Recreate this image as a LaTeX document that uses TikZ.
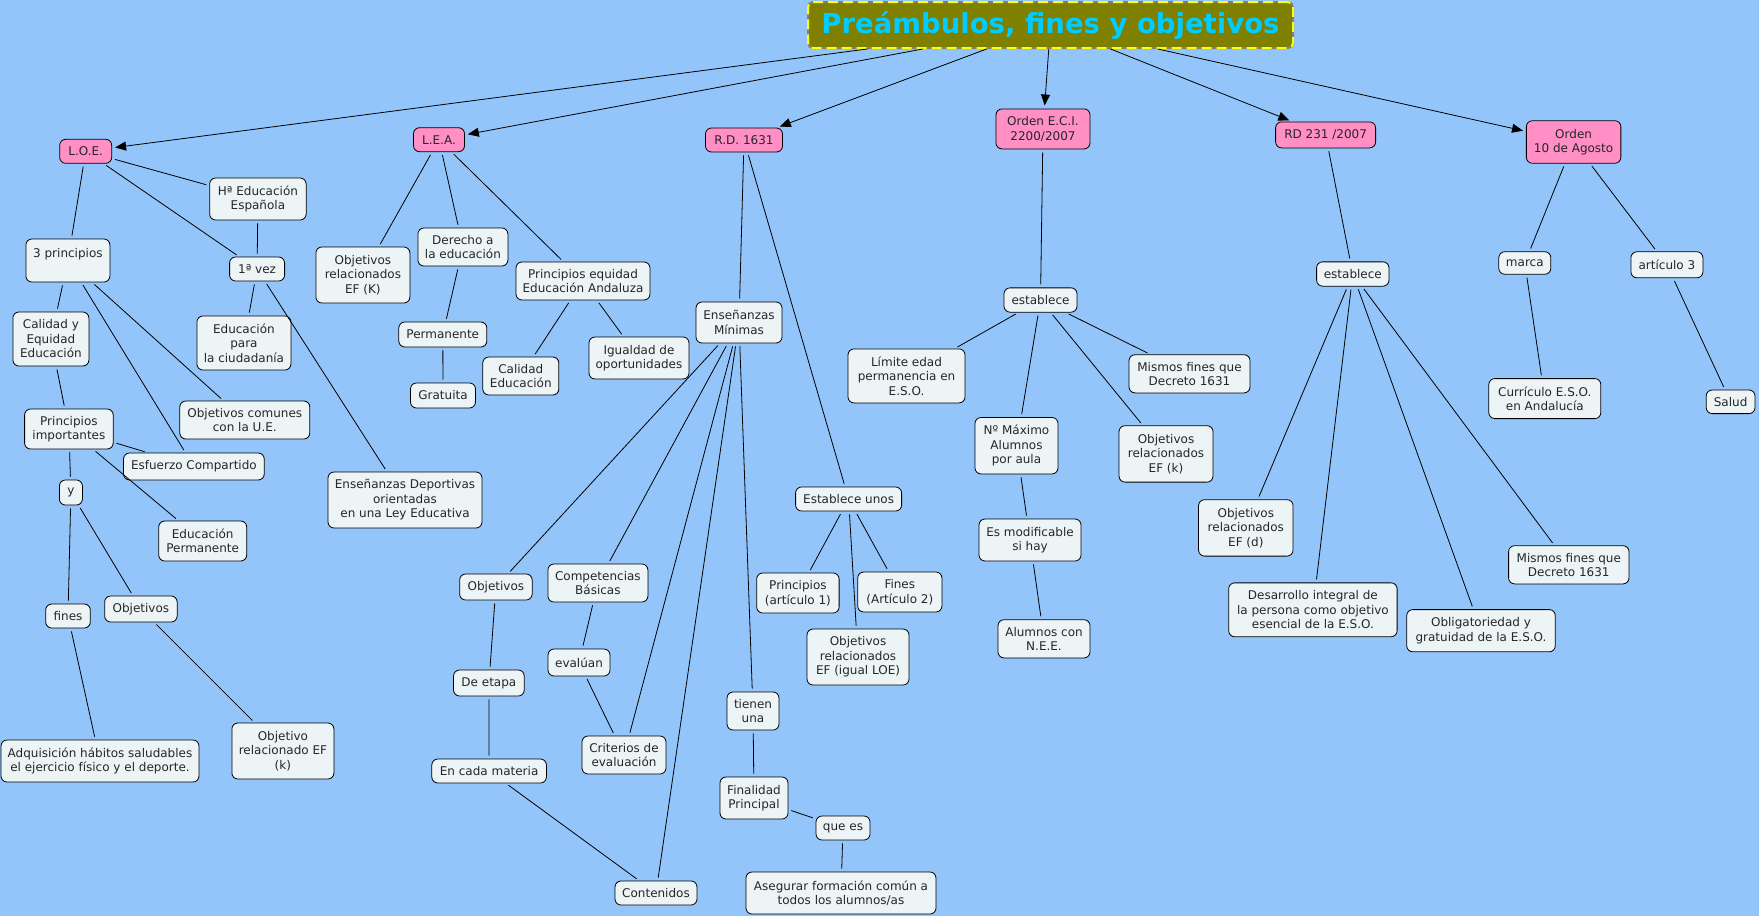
\documentclass[tikz,border=0pt]{standalone}
\usepackage{fontspec}
\setmainfont{DejaVu Sans}
\usetikzlibrary{arrows.meta}
\definecolor{bgc}{RGB}{148,197,250}
\definecolor{boxc}{RGB}{237,244,246}
\definecolor{pinkc}{RGB}{255,143,197}
\definecolor{olivec}{RGB}{128,128,0}
\definecolor{titlec}{RGB}{0,204,255}
\definecolor{yelc}{RGB}{255,255,0}
\definecolor{grayc}{RGB}{128,128,128}
\begin{document}
\begin{tikzpicture}[x=1pt,y=-1pt,
  box/.style={draw=black, fill=boxc, line width=0.8pt, rounded corners=6pt, align=center, inner sep=2pt, font=\fontsize{12}{14.5}\selectfont, text=black!85},
  pink/.style={box, fill=pinkc},
  ln/.style={draw=black, line width=0.8pt, shorten <=3pt, shorten >=3pt},
  arr/.style={draw=black, line width=0.8pt, -{Triangle[length=11pt,width=9pt]}, shorten >=3pt},
  titlebox/.style={draw=grayc, fill=olivec, line width=2pt, rounded corners=5pt, inner sep=2pt, font=\bfseries\fontsize{27.5}{30}\selectfont, text=titlec,
    postaction={draw=yelc, line width=2pt, dash pattern=on 10pt off 5pt}}
]
\fill[bgc] (0,0) rectangle (1759,916);
\useasboundingbox (0,0) rectangle (1759,916);

% title
\node[titlebox, minimum width=485pt, minimum height=46pt] (title) at (1050.5,25) {Preámbulos, fines y objetivos};

% main concepts
\node[pink, minimum width=52pt, minimum height=24pt] (loe) at (85.7,151.3) {L.O.E.};
\node[pink, minimum width=51pt, minimum height=24pt] (lea) at (439,139.7) {L.E.A.};
\node[pink, minimum width=77pt, minimum height=24pt] (rd) at (744,140) {R.D. 1631};
\node[pink, minimum width=94pt, minimum height=40pt] (eci) at (1043,128.9) {Orden E.C.I.\\2200/2007};
\node[pink, minimum width=100pt, minimum height=26pt] (rd231) at (1325.6,134.9) {RD 231 /2007};
\node[pink, minimum width=94.5pt, minimum height=42.5pt] (ord10) at (1573.6,142) {Orden\\10 de Agosto};

% LOE subtree
\node[box, minimum width=96.5pt, minimum height=42pt] (hist) at (257.9,199) {Hª Educación\\Española};
\node[box, minimum width=84pt, minimum height=43pt] (tres) at (67.9,260.5) {3 principios\\\mbox{}};
\node[box, minimum width=55pt, minimum height=24pt] (vez) at (257.1,269) {1ª vez};
\node[box, minimum width=76pt, minimum height=54pt] (calq) at (50.9,339) {Calidad y\\Equidad\\Educación};
\node[box, minimum width=94pt, minimum height=54pt] (ciud) at (243.9,343) {Educación\\para\\la ciudadanía};
\node[box, minimum width=130pt, minimum height=38pt] (comun) at (244.8,420) {Objetivos comunes\\con la U.E.};
\node[box, minimum width=88.6pt, minimum height=40pt] (pimp) at (68.9,429) {Principios\\importantes};
\node[box, minimum width=140.7pt, minimum height=27pt] (esf) at (193.9,466.5) {Esfuerzo Compartido};
\node[box, minimum width=23pt, minimum height=25pt] (y) at (70.9,492.5) {y};
\node[box, minimum width=154pt, minimum height=56pt] (dep) at (405,500) {Enseñanzas Deportivas\\orientadas\\en una Ley Educativa};
\node[box, minimum width=88pt, minimum height=40pt] (edperm) at (202.7,541) {Educación\\Permanente};
\node[box, minimum width=44.6pt, minimum height=24pt] (fines) at (68,616) {fines};
\node[box, minimum width=72.5pt, minimum height=26pt] (objl) at (140.9,609) {Objetivos};
\node[box, minimum width=198pt, minimum height=42pt] (adq) at (100,761) {Adquisición hábitos saludables\\el ejercicio físico y el deporte.};
\node[box, minimum width=102pt, minimum height=56pt] (objk) at (282.9,751) {Objetivo\\relacionado EF\\(k)};

% LEA subtree
\node[box, minimum width=94pt, minimum height=56pt] (objK) at (362.9,275) {Objetivos\\relacionados\\EF (K)};
\node[box, minimum width=90pt, minimum height=38pt] (der) at (462.9,247) {Derecho a\\la educación};
\node[box, minimum width=88pt, minimum height=25pt] (perm) at (442.8,334.5) {Permanente};
\node[box, minimum width=65pt, minimum height=25pt] (grat) at (443,395.5) {Gratuita};
\node[box, minimum width=134pt, minimum height=38pt] (peq) at (583,281) {Principios equidad\\Educación Andaluza};
\node[box, minimum width=76pt, minimum height=38pt] (cal) at (520.8,376) {Calidad\\Educación};
\node[box, minimum width=100pt, minimum height=42pt] (igu) at (639,358) {Igualdad de\\oportunidades};

% RD 1631 subtree
\node[box, minimum width=86pt, minimum height=41pt] (ens) at (739,322.5) {Enseñanzas\\Mínimas};
\node[box, minimum width=72.5pt, minimum height=26pt] (obrd) at (495.9,587) {Objetivos};
\node[box, minimum width=100pt, minimum height=38pt] (comp) at (597.9,583) {Competencias\\Básicas};
\node[box, minimum width=70.7pt, minimum height=26pt] (etapa) at (488.9,683) {De etapa};
\node[box, minimum width=62pt, minimum height=27pt] (eval) at (579,662.5) {evalúan};
\node[box, minimum width=114.6pt, minimum height=24pt] (cada) at (489.1,771) {En cada materia};
\node[box, minimum width=84pt, minimum height=38pt] (crit) at (624,755) {Criterios de\\evaluación};
\node[box, minimum width=82pt, minimum height=24pt] (cont) at (656,893) {Contenidos};
\node[box, minimum width=106pt, minimum height=24pt] (estu) at (848.6,499) {Establece unos};
\node[box, minimum width=82.4pt, minimum height=40pt] (prin1) at (797.9,593) {Principios\\(artículo 1)};
\node[box, minimum width=84.2pt, minimum height=40pt] (fin2) at (899.8,592) {Fines\\(Artículo 2)};
\node[box, minimum width=102pt, minimum height=56pt] (objLOE) at (858,657) {Objetivos\\relacionados\\EF (igual LOE)};
\node[box, minimum width=52pt, minimum height=38pt] (tien) at (753,711) {tienen\\una};
\node[box, minimum width=68pt, minimum height=42pt] (final) at (754,798) {Finalidad\\Principal};
\node[box, minimum width=54pt, minimum height=24pt] (quees) at (843,828) {que es};
\node[box, minimum width=190pt, minimum height=42pt] (aseg) at (841,893) {Asegurar formación común a\\todos los alumnos/as};

% ECI subtree
\node[box, minimum width=73pt, minimum height=24.3pt] (est1) at (1040.5,300) {establece};
\node[box, minimum width=117pt, minimum height=54pt] (lim) at (906.5,375.9) {Límite edad\\permanencia en\\E.S.O.};
\node[box, minimum width=121pt, minimum height=38.2pt] (mis1) at (1189.5,373.8) {Mismos fines que\\Decreto 1631};
\node[box, minimum width=83pt, minimum height=56.4pt] (nmax) at (1016.5,445.7) {Nº Máximo\\Alumnos\\por aula};
\node[box, minimum width=94pt, minimum height=56.4pt] (objk2) at (1166,453.9) {Objetivos\\relacionados\\EF (k)};
\node[box, minimum width=102pt, minimum height=42pt] (modif) at (1030,540) {Es modificable\\si hay};
\node[box, minimum width=92pt, minimum height=38.2pt] (nee) at (1044,638.8) {Alumnos con\\N.E.E.};

% RD 231 subtree
\node[box, minimum width=72.4pt, minimum height=24.3pt] (est2) at (1352.8,274) {establece};
\node[box, minimum width=94.5pt, minimum height=56.4pt] (objd) at (1245.8,527.9) {Objetivos\\relacionados\\EF (d)};
\node[box, minimum width=168.4pt, minimum height=53.9pt] (desa) at (1312.9,609.8) {Desarrollo integral de\\la persona como objetivo\\esencial de la E.S.O.};
\node[box, minimum width=148.5pt, minimum height=42.2pt] (obli) at (1481,630.7) {Obligatoriedad y\\gratuidad de la E.S.O.};
\node[box, minimum width=120.4pt, minimum height=38.2pt] (mis2) at (1568.8,564.8) {Mismos fines que\\Decreto 1631};

% Orden 10 de Agosto subtree
\node[box, minimum width=52pt, minimum height=22.5pt] (marca) at (1524.8,263) {marca};
\node[box, minimum width=72pt, minimum height=26pt] (art3) at (1666.9,264.8) {artículo 3};
\node[box, minimum width=112pt, minimum height=40pt] (curr) at (1544.8,398.6) {Currículo E.S.O.\\en Andalucía};
\node[box, minimum width=48.8pt, minimum height=23.6pt] (salud) at (1730.6,401.8) {Salud};

% arrows from title
\foreach \t in {loe,lea,rd,eci,rd231,ord10} \draw[arr] (title) -- (\t);

% LOE links
\draw[ln] (loe) -- (hist);
\draw[ln] (loe) -- (vez);
\draw[ln] (hist) -- (vez);
\draw[ln] (vez) -- (ciud);
\draw[ln] (vez) -- (dep);
\draw[ln] (loe) -- (tres);
\draw[ln] (tres) -- (calq);
\draw[ln] (tres) -- (esf);
\draw[ln] (tres) -- (comun);
\draw[ln] (calq) -- (pimp);
\draw[ln] (pimp) -- (esf);
\draw[ln] (pimp) -- (y);
\draw[ln] (pimp) -- (edperm);
\draw[ln] (y) -- (fines);
\draw[ln] (y) -- (objl);
\draw[ln] (fines) -- (adq);
\draw[ln] (objl) -- (objk);

% LEA links
\draw[ln] (lea) -- (objK);
\draw[ln] (lea) -- (der);
\draw[ln] (lea) -- (peq);
\draw[ln] (der) -- (perm);
\draw[ln] (perm) -- (grat);
\draw[ln] (peq) -- (cal);
\draw[ln] (peq) -- (igu);

% RD 1631 links
\draw[ln] (rd) -- (ens);
\draw[ln] (rd) -- (estu);
\draw[ln] (ens) -- (obrd);
\draw[ln] (ens) -- (comp);
\draw[ln] (ens) -- (crit);
\draw[ln] (ens) -- (cont);
\draw[ln] (ens) -- (tien);
\draw[ln] (comp) -- (eval);
\draw[ln] (eval) -- (crit);
\draw[ln] (obrd) -- (etapa);
\draw[ln] (etapa) -- (cada);
\draw[ln] (cada) -- (cont);
\draw[ln] (estu) -- (prin1);
\draw[ln] (estu) -- (fin2);
\draw[ln] (estu) -- (objLOE);
\draw[ln] (tien) -- (final);
\draw[ln] (final) -- (quees);
\draw[ln] (quees) -- (aseg);

% ECI links
\draw[ln] (eci) -- (est1);
\draw[ln] (est1) -- (lim);
\draw[ln] (est1) -- (nmax);
\draw[ln] (est1) -- (objk2);
\draw[ln] (est1) -- (mis1);
\draw[ln] (nmax) -- (modif);
\draw[ln] (modif) -- (nee);

% RD 231 links
\draw[ln] (rd231) -- (est2);
\draw[ln] (est2) -- (objd);
\draw[ln] (est2) -- (desa);
\draw[ln] (est2) -- (obli);
\draw[ln] (est2) -- (mis2);

% Orden 10 links
\draw[ln] (ord10) -- (marca);
\draw[ln] (ord10) -- (art3);
\draw[ln] (marca) -- (curr);
\draw[ln] (art3) -- (salud);
\end{tikzpicture}
\end{document}
